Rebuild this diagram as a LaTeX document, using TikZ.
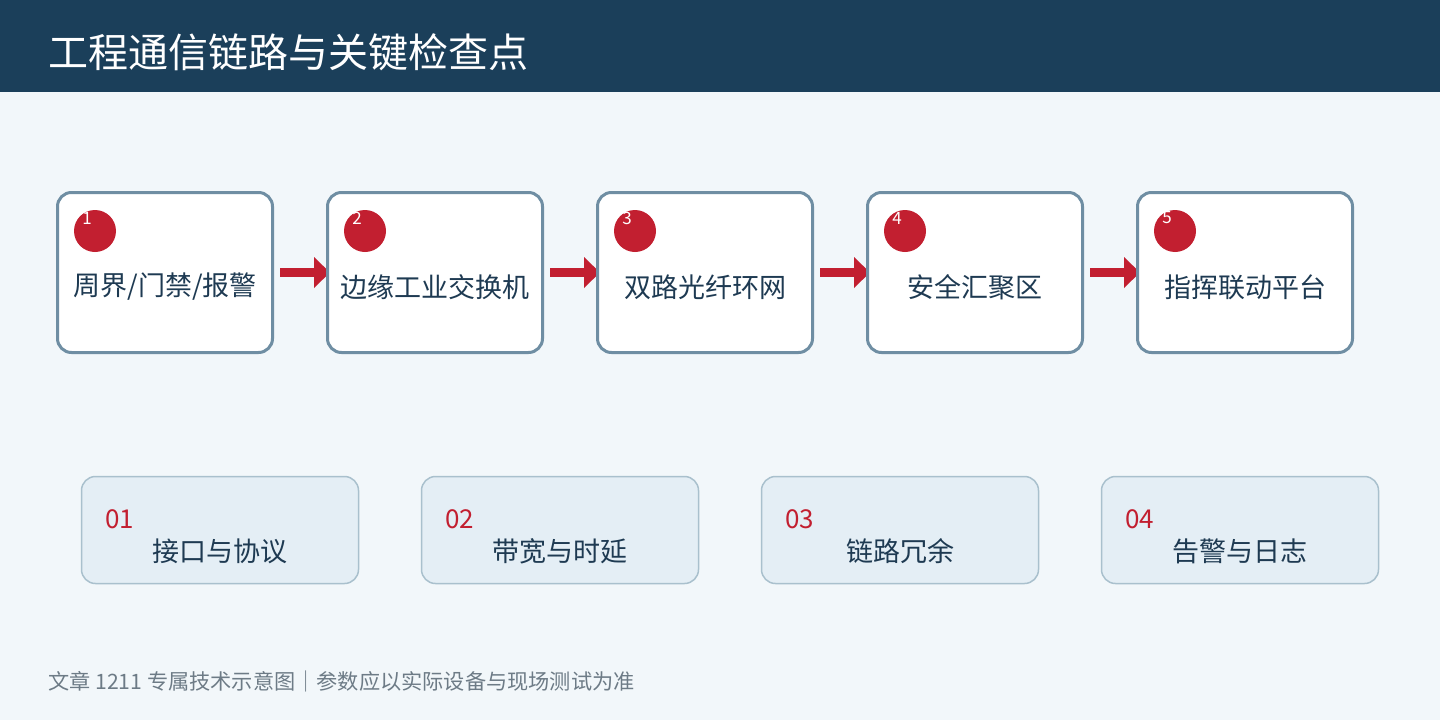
\documentclass[tikz,border=0pt]{standalone}
\usepackage{fontspec}
\setmainfont{Noto Sans CJK SC}
\usetikzlibrary{arrows.meta,backgrounds}
\definecolor{headblue}{HTML}{1B3F5A}
\definecolor{pagebg}{HTML}{F2F7FA}
\definecolor{edgeblue}{HTML}{6F8EA3}
\definecolor{alertred}{HTML}{C21F30}
\definecolor{inkblue}{HTML}{1E3A52}
\definecolor{cardfill}{HTML}{E4EEF5}
\definecolor{cardedge}{HTML}{A9C0CD}
\definecolor{notegray}{HTML}{6D7B86}
\tikzset{
	stage/.style={draw=edgeblue, line width=3pt, fill=white, rounded corners=14pt,
		minimum width=215pt, minimum height=160pt},
	stagetext/.style={text=inkblue, font=\fontsize{27}{30}\selectfont},
	badge/.style={circle, fill=alertred, minimum size=42pt, inner sep=0pt},
	badgenum/.style={text=white, font=\fontsize{17}{19}\selectfont, inner sep=0pt},
	flow/.style={alertred, line width=9pt, -{Triangle[length=16pt, width=30pt]}},
	card/.style={draw=cardedge, line width=1.5pt, fill=cardfill, rounded corners=14pt,
		minimum width=277pt, minimum height=107pt},
	cardnum/.style={text=alertred, font=\fontsize{26}{28}\selectfont, anchor=west, inner sep=0pt},
	cardtext/.style={text=inkblue, font=\fontsize{27}{30}\selectfont}
}
\begin{document}
\begin{tikzpicture}[x=1pt, y=-1pt]
	\useasboundingbox (0,0) rectangle (1440,720);
	\begin{scope}[on background layer]
		\fill[pagebg] (0,0) rectangle (1440,720);
		\fill[headblue] (0,0) rectangle (1440,92);
	\end{scope}
	\node[anchor=west, inner sep=0pt, text=white, font=\fontsize{40}{44}\selectfont] (title) at (48,52) {工程通信链路与关键检查点};

	\foreach \i/\x/\txt in {1/165/{周界/门禁/报警}, 2/435/边缘工业交换机, 3/705/双路光纤环网, 4/975/安全汇聚区, 5/1245/指挥联动平台} {
		\node[stage] (s\i) at (\x, 272.5) {};
		\node[badge] (c\i) at (\x-70, 231) {};
		\node[badgenum] (n\i) at (\x-78, 218) {\i};
		\node[stagetext] (t\i) at (\x, 287) {\txt};
	}

	\begin{scope}[on background layer]
		\foreach \i/\j in {1/2, 2/3, 3/4, 4/5} {
			\draw[flow] ([xshift=6pt]s\i.east) -- ([xshift=4pt]s\j.west);
		}
	\end{scope}

	\foreach \i/\x/\txt in {1/220/接口与协议, 2/560/带宽与时延, 3/900/链路冗余, 4/1240/告警与日志} {
		\node[card] (k\i) at (\x, 530) {};
		\node[cardnum] (m\i) at (\x-115, 519) {0\i};
		\node[cardtext] (l\i) at (\x, 551) {\txt};
	}

	\node[anchor=west, inner sep=0pt, text=notegray, font=\fontsize{21.2}{24}\selectfont] (note) at (48,681) {文章 1211 专属技术示意图｜参数应以实际设备与现场测试为准};
\end{tikzpicture}
\end{document}
